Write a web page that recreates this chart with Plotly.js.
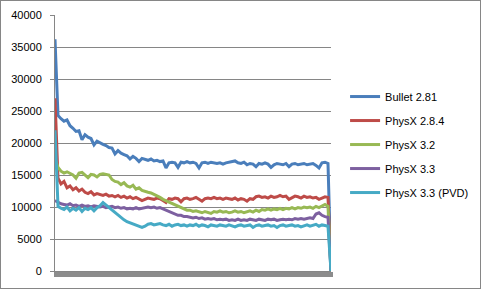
<!DOCTYPE html>
<html>
<head>
<meta charset="utf-8">
<script src="https://cdn.plot.ly/plotly-3.0.1.min.js"></script>
<style>
html,body{margin:0;padding:0;background:#fff;}
#chart{width:479px;height:287px;border:1px solid #868686;}
</style>
</head>
<body>
<div id="chart"></div>
<script>
var seriesNames = ["Bullet 2.81", "PhysX 2.8.4", "PhysX 3.2", "PhysX 3.3", "PhysX 3.3 (PVD)"];
var seriesColors = ["#4A7EBB", "#BE4B48", "#98B954", "#7D60A0", "#46AAC5"];

var bullet281 = [36200,24300,23800,23400,23600,22700,22300,21800,21900,20500,
21300,20900,20700,19700,20300,20000,19800,19600,19300,19200,
18300,18800,18400,18200,18000,17500,17900,17600,17100,17600,
17400,17300,17500,17200,17300,17100,17200,16100,16900,17000,
16900,16200,17000,16900,17100,16900,17000,16800,16100,16900,
17000,16800,17000,16900,16800,16900,16700,16900,17000,17100,
17200,16900,16800,17000,16600,16800,16700,16300,16800,16700,
16900,16700,16200,16600,16800,16700,16600,16800,16300,16700,
16800,16600,16700,16800,16600,16700,16800,16500,16100,16900,
17000,16800,0];

var physx284 = [27000,14500,13600,14000,13000,13300,12700,13000,12500,12800,
12300,12100,12400,11900,12100,12000,11800,12000,11700,11800,
11600,11800,11500,11700,11400,11600,11300,11500,11200,11000,
11200,11400,11300,11200,11400,11300,11000,10700,11300,11200,
11400,11300,10800,11300,11400,11200,11300,11500,11200,10900,
11300,11400,11300,11500,11300,11400,11200,11400,11300,11200,
11400,11100,11300,11200,10900,11300,11200,11600,11700,11500,
11600,11400,11700,11500,11600,11800,11600,11700,11200,11500,
11700,11600,11400,11700,11500,11600,11400,11500,11200,11400,
11600,11500,0];

var physx32 = [17600,16200,15600,15300,15500,15200,15000,14500,15300,15400,
15000,14600,15100,15000,14700,15100,15200,15100,15000,14300,
14000,13900,13500,13800,13300,13100,13400,12800,13000,12600,
12400,12300,12200,12000,11700,11500,11200,11000,10800,10600,
10300,10100,9900,9700,9500,9500,9300,9400,9200,9100,
9300,9200,9000,9300,9200,9400,9200,9300,9100,9200,
9400,9200,9300,9100,9300,9400,9200,9500,9300,9600,
9500,9700,9500,9700,9600,9800,9600,9800,9700,9900,
9700,9900,9800,10000,9900,10000,9800,10100,9900,10200,
10400,10100,0];

var physx33 = [11000,10700,10500,10400,10300,10500,10200,10300,10100,10300,
10100,10200,10000,10200,10100,10000,10100,9900,10000,10100,
9900,10000,9800,9900,9700,9800,9700,9900,9700,9800,
9900,10000,9900,10000,9800,9900,9700,9500,9300,9100,
8900,8700,8700,8500,8500,8400,8300,8400,8200,8300,
8100,8200,8100,8200,8000,8100,8000,8100,7900,8000,
7900,8100,7900,8000,7900,8100,8000,7900,8100,8000,
7900,8100,8000,8100,7900,8000,8100,8000,8100,8000,
8200,8100,8200,8100,8200,8300,8200,8900,9100,8700,
8500,8400,0];

var physx33pvd = [22000,10100,9800,9600,10000,9400,9800,9500,9900,9300,
9800,9600,9900,9400,9900,10200,10700,10300,9900,9500,
9100,8700,8400,8000,7700,7500,7300,7100,6900,6800,
7000,7300,7400,7200,7300,7400,7200,7100,7300,7000,
7200,7300,7100,7200,7000,7200,7100,7300,7000,7200,
7100,6900,7200,7100,7000,7200,7100,7000,7200,7100,
6900,7100,7200,7000,7100,7200,6800,7100,7200,7000,
7100,7200,7000,7100,6800,7100,7200,7000,7100,7200,
7000,7100,6900,7100,7200,7000,7100,7300,7000,7200,
7100,7000,0];

var allSeries = [bullet281, physx284, physx32, physx33, physx33pvd];
var yTickVals = [0,5000,10000,15000,20000,25000,30000,35000,40000];

var traces = allSeries.map(function(vals, k){
  return {
    type: 'scatter',
    mode: 'lines',
    name: seriesNames[k],
    x: vals.map(function(v, i){ return i; }),
    y: vals,
    line: {color: seriesColors[k], width: 3},
    legendgroup: 'g' + k,
    hoverinfo: 'skip'
  };
});

var layout = {
  width: 479,
  height: 287,
  margin: {l: 54, r: 149, t: 14, b: 17, autoexpand: false},
  paper_bgcolor: '#ffffff',
  plot_bgcolor: '#ffffff',
  font: {family: 'Liberation Sans, Arial, sans-serif', size: 11, color: '#000'},
  showlegend: true,
  legend: {
    x: 1.051, xanchor: 'left',
    y: 0.494, yanchor: 'middle',
    traceorder: 'grouped',
    tracegroupgap: 5,
    font: {size: 11, color: '#000'},
    bgcolor: 'rgba(0,0,0,0)'
  },
  xaxis: {
    range: [0, bullet281.length - 1],
    showgrid: false,
    zeroline: false,
    showline: true,
    linecolor: '#868686',
    linewidth: 1,
    ticks: 'outside',
    tickmode: 'linear',
    tick0: 0,
    dtick: 1,
    ticklen: 5,
    tickwidth: 3,
    tickcolor: '#8c8c8c',
    showticklabels: false,
    fixedrange: true
  },
  yaxis: {
    range: [0, 40000],
    tickmode: 'array',
    tickvals: yTickVals,
    ticktext: yTickVals.map(String),
    showgrid: true,
    gridcolor: '#868686',
    gridwidth: 1,
    zeroline: false,
    showline: true,
    linecolor: '#868686',
    ticks: 'outside',
    ticklen: 4,
    tickcolor: '#868686',
    ticklabelstandoff: 6,
    tickfont: {size: 11, color: '#000'},
    fixedrange: true
  }
};

Plotly.newPlot('chart', traces, layout, {staticPlot: true, displayModeBar: false});
</script>
</body>
</html>
